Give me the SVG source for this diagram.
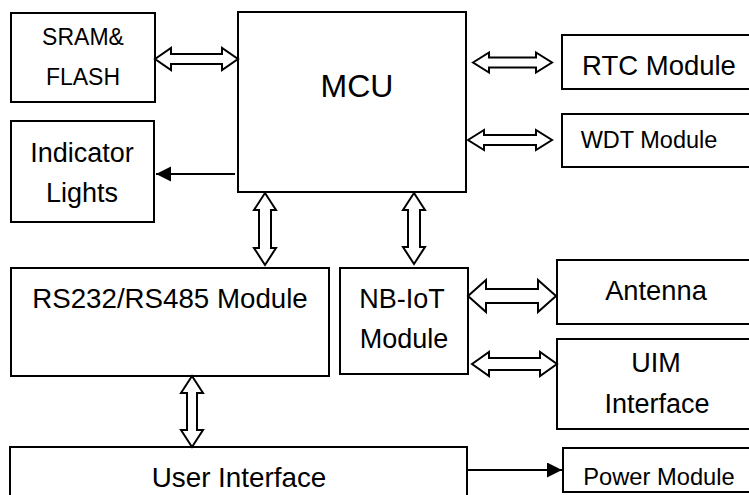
<svg xmlns="http://www.w3.org/2000/svg" width="749" height="495" viewBox="0 0 749 495">
<style>
.box{fill:#fff;stroke:#000;stroke-width:2}
.t{font-family:"Liberation Sans",Arial,sans-serif;fill:#000;text-anchor:middle}
.da{fill:#fff;stroke:#000;stroke-width:2;stroke-linejoin:miter}
.ln{stroke:#000;stroke-width:2;fill:none}
</style>
<defs>
<marker id="ah" markerWidth="16" markerHeight="16" refX="15" refY="7.5" orient="auto" markerUnits="userSpaceOnUse">
<path d="M0,0 L15,7.5 L0,15 Z" fill="#000"/>
</marker>
</defs>
<rect width="749" height="495" fill="#fff"/>
<g id="sram"><rect class="box" x="11" y="13" width="144" height="89"/><text class="t" x="83" y="45" font-size="23">SRAM&amp;</text><text class="t" x="83" y="85" font-size="23">FLASH</text></g>
<g id="indicator"><rect class="box" x="11" y="121" width="143" height="101"/><text class="t" x="82" y="162" font-size="27">Indicator</text><text class="t" x="82" y="202" font-size="27">Lights</text></g>
<g id="mcu"><rect class="box" x="238" y="12" width="228" height="180"/><text class="t" x="357" y="97" font-size="32">MCU</text></g>
<g id="rtc"><rect class="box" x="562" y="35" width="200" height="54"/><text class="t" x="659" y="75" font-size="27.5">RTC Module</text></g>
<g id="wdt"><rect class="box" x="562" y="114" width="200" height="53"/><text class="t" x="649" y="148" font-size="23.5">WDT Module</text></g>
<g id="rs232"><rect class="box" x="11" y="268" width="318" height="108"/><text class="t" x="170" y="308" font-size="27.7">RS232/RS485 Module</text></g>
<g id="nbiot"><rect class="box" x="340" y="268" width="128" height="106"/><text class="t" x="402" y="308" font-size="27">NB-IoT</text><text class="t" x="404" y="348" font-size="27">Module</text></g>
<g id="antenna"><rect class="box" x="557" y="260" width="200" height="64"/><text class="t" x="656" y="300" font-size="27.3">Antenna</text></g>
<g id="uim"><rect class="box" x="557" y="339" width="200" height="90"/><text class="t" x="656" y="372" font-size="27">UIM</text><text class="t" x="657" y="413" font-size="27">Interface</text></g>
<g id="user"><rect class="box" x="10" y="447" width="457" height="60"/><text class="t" x="239" y="487" font-size="27.8">User Interface</text></g>
<g id="power"><rect class="box" x="563" y="448" width="200" height="44"/><text class="t" x="659" y="485" font-size="23.7">Power Module</text></g>
<g id="connectors">
<polygon class="da" points="155,59 171,48 171,54 222,54 222,48 238,59 222,70 222,64 171,64 171,70"/>
<polygon class="da" points="473,62.5 489,52.5 489,57.5 536,57.5 536,52.5 552,62.5 536,72.5 536,67.5 489,67.5 489,72.5"/>
<polygon class="da" points="468,140 484,130 484,135 536,135 536,130 552,140 536,150 536,145 484,145 484,150"/>
<polygon class="da" points="265,193 276,210 271,210 271,248 276,248 265,265 254,248 259,248 259,210 254,210"/>
<polygon class="da" points="414,193 425,210 420,210 420,247 425,247 414,264 403,247 408,247 408,210 403,210"/>
<polygon class="da" points="468,296 486,280 486,289 538,289 538,280 556,296 538,312 538,303 486,303 486,312"/>
<polygon class="da" points="472,364 489,352 489,358 540,358 540,352 557,364 540,376 540,370 489,370 489,376"/>
<polygon class="da" points="192,376 203,393 197,393 197,430 203,430 192,447 181,430 187,430 187,393 181,393"/>
<line class="ln" x1="235" y1="174" x2="156" y2="174" marker-end="url(#ah)"/>
<line class="ln" x1="467" y1="470" x2="562" y2="470" marker-end="url(#ah)"/>
</g>
</svg>
